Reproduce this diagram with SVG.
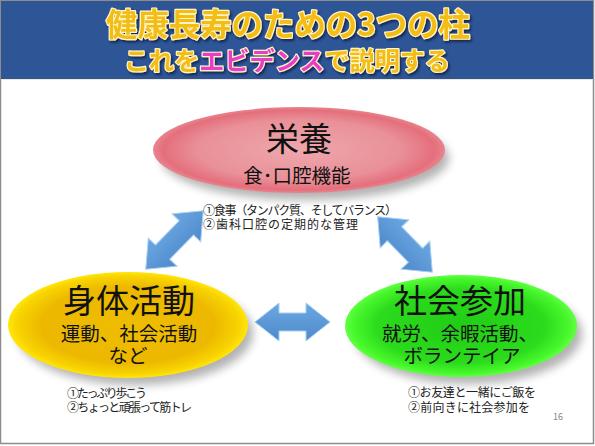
<svg xmlns="http://www.w3.org/2000/svg" width="595" height="446" viewBox="0 0 595 446">
<style>
.t{font-family:"Noto Sans CJK JP","Noto Sans CJK SC",sans-serif;}
.title{font-weight:bold;fill:#f4bd14;stroke:#fff6c8;stroke-width:2.4;paint-order:stroke;stroke-linejoin:round;}
.mag{fill:#e83ec8;}
.big{font-size:33px;fill:#111;text-anchor:middle;}
.mid{font-size:19.5px;fill:#111;text-anchor:middle;}
.note{font-size:12px;fill:#222;}
.arrow{fill:url(#ag);stroke:#a9cff2;stroke-width:1;stroke-linejoin:miter;}
</style>
<defs>
<filter id="sh" x="-20%" y="-20%" width="140%" height="160%"><feGaussianBlur stdDeviation="5"/></filter>
<filter id="tsh" x="-10%" y="-20%" width="120%" height="150%"><feDropShadow dx="1.5" dy="2" stdDeviation="1" flood-color="#0a1a40" flood-opacity="0.8"/></filter>
<radialGradient id="pink" cx="50%" cy="50%" r="50%">
<stop offset="0" stop-color="#efa7ad"/><stop offset="0.7" stop-color="#e99098"/><stop offset="0.93" stop-color="#e46f7c"/><stop offset="1" stop-color="#e8848e"/>
</radialGradient>
<radialGradient id="yel" cx="50%" cy="50%" r="50%">
<stop offset="0" stop-color="#eebd00"/><stop offset="0.72" stop-color="#ecb800"/><stop offset="0.92" stop-color="#f8d300"/><stop offset="1" stop-color="#ffe60a"/>
</radialGradient>
<radialGradient id="grn" cx="50%" cy="50%" r="50%">
<stop offset="0" stop-color="#22cc16"/><stop offset="0.72" stop-color="#2bdb1c"/><stop offset="0.93" stop-color="#48f82c"/><stop offset="1" stop-color="#62ff44"/>
</radialGradient>
<linearGradient id="ag" x1="0" y1="0" x2="0" y2="1">
<stop offset="0" stop-color="#6aa8e2"/><stop offset="1" stop-color="#4f8acb"/>
</linearGradient>
</defs>
<rect x="0" y="0" width="595" height="446" fill="#ffffff"/>
<rect x="0.5" y="0.5" width="593" height="443" fill="none" stroke="#8c8c8c" stroke-width="1.5"/>
<g id="header">
<rect x="1" y="1" width="592" height="78" fill="#2e5596"/>
<line x1="1" y1="79.5" x2="593" y2="79.5" stroke="#eee8d0" stroke-width="1"/>
<g filter="url(#tsh)">
<text class="t title" x="288" y="36" font-size="32" text-anchor="middle" textLength="364" lengthAdjust="spacingAndGlyphs">健康長寿のための3つの柱</text>
<text class="t title" x="287" y="70" font-size="25" text-anchor="middle" textLength="326" lengthAdjust="spacingAndGlyphs">これを<tspan class="mag">エビデンス</tspan>で説明する</text>
</g>
</g>
<g id="connectors">
<polygon class="arrow" transform="translate(174.5,240) rotate(-45.5)" points="-41,0 -17,-20 -17,-10 17,-10 17,-20 41,0 17,20 17,10 -17,10 -17,20"/>
<polygon class="arrow" transform="translate(405,244.5) rotate(45.5)" points="-39,0 -15,-20 -15,-10 15,-10 15,-20 39,0 15,20 15,10 -15,10 -15,20"/>
<polygon class="arrow" transform="translate(292.5,322)" points="-37.5,0 -13.5,-19 -13.5,-9 13.5,-9 13.5,-19 37.5,0 13.5,19 13.5,9 -13.5,9 -13.5,19"/>
</g>
<g id="nutrition">
<ellipse cx="305" cy="158" rx="144" ry="42" fill="#000" opacity="0.3" filter="url(#sh)"/>
<ellipse cx="299" cy="150" rx="146" ry="43" fill="url(#pink)"/>
<text class="t big" x="299" y="151" font-size="35">栄養</text>
<text class="t mid" x="297" y="183" font-size="22">食･口腔機能</text>
<text class="t note" x="203" y="215" textLength="194">①食事（タンパク質、そしてバランス）</text>
<text class="t note" x="203" y="229" textLength="155">②歯科口腔の定期的な管理</text>
</g>
<g id="physical">
<ellipse cx="135" cy="333" rx="118" ry="52" fill="#000" opacity="0.3" filter="url(#sh)"/>
<ellipse cx="128" cy="325" rx="120" ry="53" fill="url(#yel)"/>
<text class="t big" x="129" y="313" font-size="30">身体活動</text>
<text class="t mid" x="129" y="341" font-size="19">運動、社会活動</text>
<text class="t mid" x="128" y="363" font-size="19">など</text>
<text class="t note" x="67" y="398" textLength="80">①たっぷり歩こう</text>
<text class="t note" x="67" y="412" textLength="125">②ちょっと頑張って筋トレ</text>
</g>
<g id="social">
<ellipse cx="468" cy="334" rx="114" ry="50" fill="#000" opacity="0.3" filter="url(#sh)"/>
<ellipse cx="461" cy="326" rx="116" ry="51" fill="url(#grn)"/>
<text class="t big" x="460" y="313" font-size="30">社会参加</text>
<text class="t mid" x="460" y="341" font-size="18">就労、余暇活動、</text>
<text class="t mid" x="462" y="363" font-size="18">ボランテイア</text>
<text class="t note" x="408" y="397" textLength="128">①お友達と一緒にご飯を</text>
<text class="t note" x="408" y="412" textLength="122">②前向きに社会参加を</text>
</g>
<text class="t" x="553" y="420" font-size="9" fill="#888">16</text>
</svg>
